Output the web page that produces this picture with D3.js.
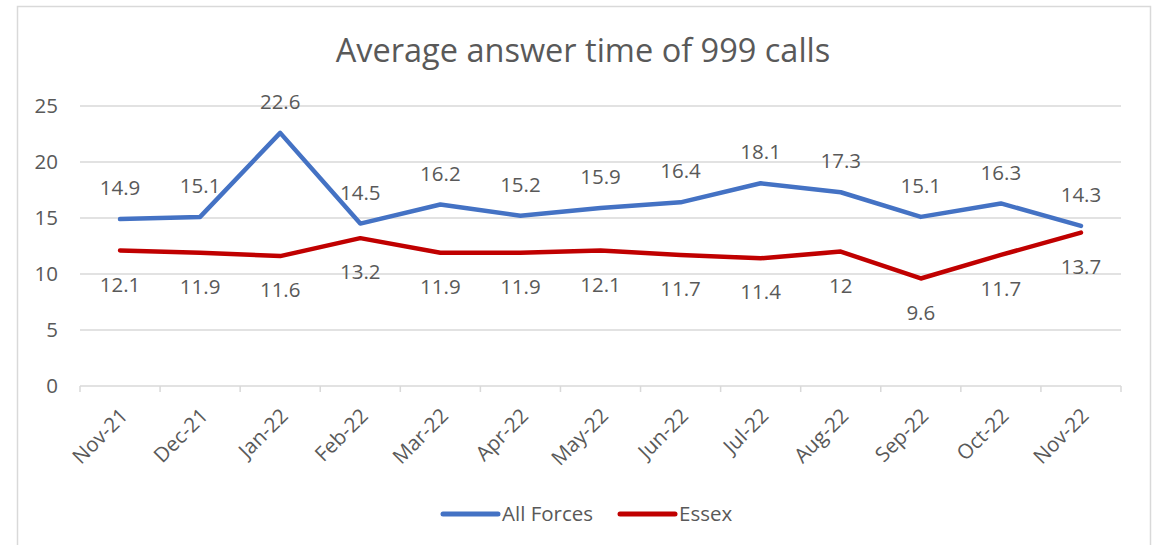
<!DOCTYPE html>
<html>
<head>
<meta charset="utf-8">
<script src="https://cdn.jsdelivr.net/npm/d3@7"></script>
<style>
  body { margin: 0; background: #fff; }
  svg { font-family: "Open Sans", "Noto Sans", sans-serif; }
</style>
</head>
<body>
<svg width="1161" height="545"></svg>
<script>
var months = ["Nov-21", "Dec-21", "Jan-22", "Feb-22", "Mar-22", "Apr-22", "May-22",
	"Jun-22", "Jul-22", "Aug-22", "Sep-22", "Oct-22", "Nov-22"];
var allForces = [14.9, 15.1, 22.6, 14.5, 16.2, 15.2, 15.9, 16.4, 18.1, 17.3, 15.1, 16.3, 14.3];
var essex = [12.1, 11.9, 11.6, 13.2, 11.9, 11.9, 12.1, 11.7, 11.4, 12, 9.6, 11.7, 13.7];
var yTicks = [0, 5, 10, 15, 20, 25];

var svg = d3.select("svg");
var textColor = "#595959";
var gridColor = "#d9d9d9";
var plotLeft = 80, plotRight = 1121, plotTop = 106, plotBottom = 386;
var fontSize = 20.5;

// chart frame
svg.append("rect")
	.attr("x", 17.5).attr("y", 6.5)
	.attr("width", 1133).attr("height", 560)
	.attr("fill", "none").attr("stroke", gridColor).attr("stroke-width", 1.5);

svg.append("text")
	.attr("x", 583).attr("y", 62)
	.attr("text-anchor", "middle")
	.attr("font-size", 32.5)
	.attr("fill", textColor)
	.text("Average answer time of 999 calls");

var x = d3.scaleBand().domain(months).range([plotLeft, plotRight]);
var y = d3.scaleLinear().domain([0, 25]).range([plotBottom, plotTop]);

// gridlines
svg.append("g").selectAll("line")
	.data(yTicks.filter(function (d) { return d > 0; }))
	.enter().append("line")
	.attr("x1", plotLeft).attr("x2", plotRight)
	.attr("y1", function (d) { return y(d); })
	.attr("y2", function (d) { return y(d); })
	.attr("stroke", gridColor).attr("stroke-width", 1.5);

var yAxis = svg.append("g")
	.attr("transform", "translate(" + plotLeft + ",0)")
	.call(d3.axisLeft(y).tickValues(yTicks).tickSize(0).tickPadding(22));
yAxis.select(".domain").remove();
yAxis.selectAll("text").attr("font-size", fontSize).attr("fill", textColor)
	.attr("font-family", "Open Sans");

// x axis with ticks between categories
var xAxis = svg.append("g").attr("transform", "translate(0," + plotBottom + ")");
xAxis.append("line")
	.attr("x1", plotLeft).attr("x2", plotRight)
	.attr("stroke", gridColor).attr("stroke-width", 1.5);
xAxis.selectAll("line.tick")
	.data(months.concat(["end"]))
	.enter().append("line")
	.attr("class", "tick")
	.attr("x1", function (d, i) { return plotLeft + i * x.step(); })
	.attr("x2", function (d, i) { return plotLeft + i * x.step(); })
	.attr("y1", 0).attr("y2", 6)
	.attr("stroke", gridColor).attr("stroke-width", 1.5);
xAxis.selectAll("text")
	.data(months)
	.enter().append("text")
	.attr("transform", function (d) {
		return "translate(" + (x(d) + x.bandwidth() / 2 + 4) + ",26) rotate(-45)";
	})
	.attr("text-anchor", "end")
	.attr("dy", "0.35em")
	.attr("font-size", fontSize)
	.attr("fill", textColor)
	.text(function (d) { return d; });

var series = [
	{ name: "All Forces", values: allForces, color: "#4472C4", offset: -31 },
	{ name: "Essex", values: essex, color: "#C00000", offset: 34 }
];

var line = d3.line()
	.x(function (d, i) { return x(months[i]) + x.bandwidth() / 2; })
	.y(function (d) { return y(d); });

series.forEach(function (s) {
	svg.append("path")
		.datum(s.values)
		.attr("d", line)
		.attr("fill", "none")
		.attr("stroke", s.color)
		.attr("stroke-width", 4.5)
		.attr("stroke-linejoin", "round")
		.attr("stroke-linecap", "round");
});

series.forEach(function (s) {
	svg.append("g").selectAll("text")
		.data(s.values)
		.enter().append("text")
		.attr("x", function (d, i) { return x(months[i]) + x.bandwidth() / 2; })
		.attr("y", function (d) { return y(d) + s.offset; })
		.attr("dy", "0.35em")
		.attr("text-anchor", "middle")
		.attr("font-size", fontSize)
		.attr("fill", textColor)
		.text(function (d) { return d; });
});

// legend
var legend = svg.append("g").attr("transform", "translate(0,514)");
var legendX = [443, 620];
series.forEach(function (s, i) {
	legend.append("line")
		.attr("x1", legendX[i]).attr("x2", legendX[i] + 55)
		.attr("stroke", s.color).attr("stroke-width", 5)
		.attr("stroke-linecap", "round");
	legend.append("text")
		.attr("x", legendX[i] + 59)
		.attr("dy", "0.35em")
		.attr("font-size", fontSize)
		.attr("fill", textColor)
		.text(s.name);
});
</script>
</body>
</html>
